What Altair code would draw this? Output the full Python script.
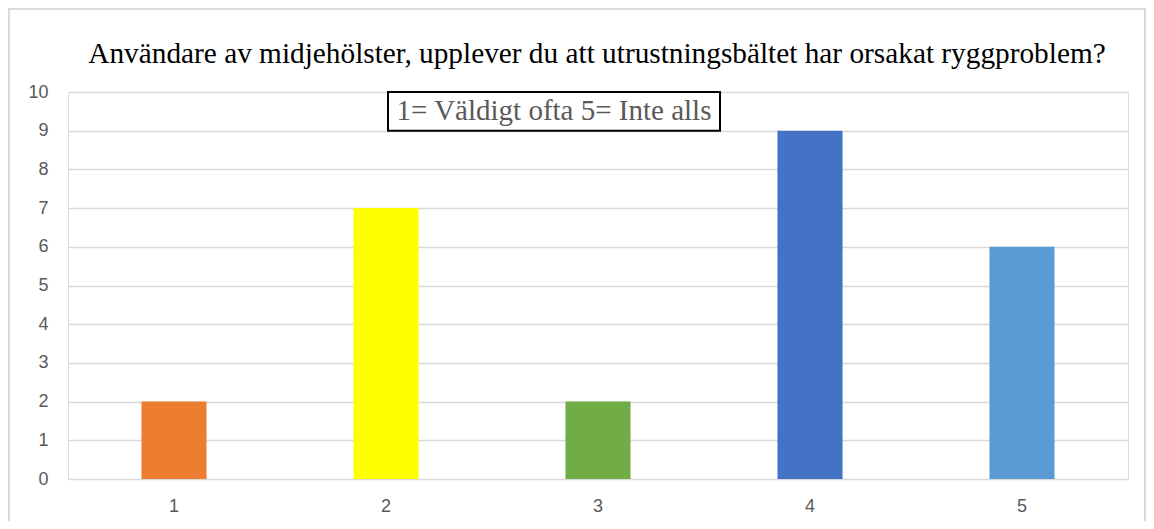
import altair as alt
import pandas as pd

categories = ["1", "2", "3", "4", "5"]
values = [2, 7, 2, 9, 6]
colors = ["#ED7D31", "#FFFF00", "#70AD47", "#4472C4", "#5B9BD5"]
title_text = "Användare av midjehölster, upplever du att utrustningsbältet har orsakat ryggproblem?"
note_text = "1= Väldigt ofta 5= Inte alls"

df = pd.DataFrame({"cat": categories, "val": values, "color": colors})

W, H = 1060, 387
yscale = alt.Scale(domain=[0, 10], nice=False)
yaxis = alt.Axis(title=None, values=list(range(11)), labelFontSize=18, labelColor="#595959",
                 labelFont="Liberation Sans", domain=False, ticks=False, labelPadding=20,
                 gridColor="#D9D9D9", gridWidth=1.5)

x = alt.X("cat:N", sort=categories,
          scale=alt.Scale(paddingInner=0.693, paddingOuter=0.3465),
          axis=alt.Axis(title=None, labelAngle=0, labelFontSize=18, labelColor="#595959",
                        labelFont="Liberation Sans", domain=False, ticks=False, labelPadding=18,
                        grid=False))

bars = alt.Chart(df).mark_bar(stroke=None).encode(
    x=x, y=alt.Y("val:Q", scale=yscale, axis=yaxis), color=alt.Color("color:N", scale=None)
)

# outer chart border
border = alt.Chart(pd.DataFrame({"a": [0]})).mark_rect(
    fill=None, stroke="#D9D9D9", strokeWidth=2
).encode(x=alt.value(-59), x2=alt.value(1077), y=alt.value(-83), y2=alt.value(480))

title = alt.Chart(pd.DataFrame({"t": [title_text]})).mark_text(
    font="Liberation Serif", fontSize=29.3, color="#000000", align="center", baseline="middle"
).encode(x=alt.value(529), y=alt.value(-38), text="t:N")

note_df = pd.DataFrame({"t": [note_text], "y0": [9.0], "y1": [10.0], "ym": [9.5]})
note_box = alt.Chart(note_df).mark_rect(fill="white", stroke="black", strokeWidth=2).encode(
    x=alt.value(320), x2=alt.value(652),
    y=alt.Y("y0:Q", scale=yscale, axis=yaxis), y2="y1:Q"
)
note_txt = alt.Chart(note_df).mark_text(
    font="Liberation Serif", fontSize=29, color="#595959", align="center", baseline="middle"
).encode(x=alt.value(486), y=alt.Y("ym:Q", scale=yscale, axis=yaxis), text="t:N")

chart = alt.layer(bars, border, title, note_box, note_txt).properties(
    width=W, height=H,
    autosize=alt.AutoSizeParams(type="none"),
    padding={"left": 60, "top": 84, "right": 18, "bottom": 42},
).configure_view(strokeWidth=0).configure(background="white")

chart.save("out.html", embed_options={"renderer": "svg", "actions": False})
